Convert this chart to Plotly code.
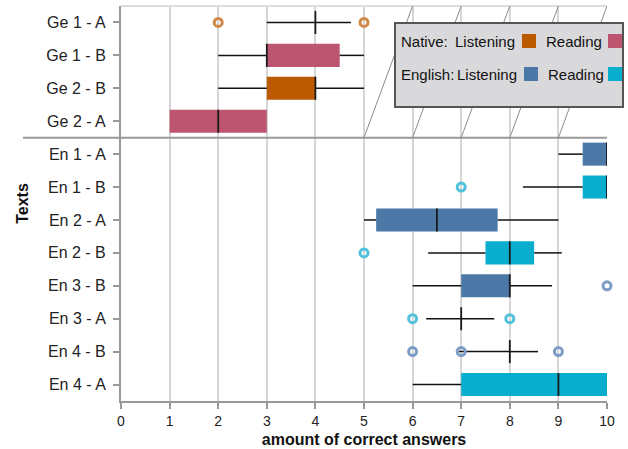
import plotly.graph_objects as go

# ---------------- data ----------------
texts = ["Ge 1 - A", "Ge 1 - B", "Ge 2 - B", "Ge 2 - A",
         "En 1 - A", "En 1 - B", "En 2 - A", "En 2 - B",
         "En 3 - B", "En 3 - A", "En 4 - B", "En 4 - A"]
skill = ["NL", "NR", "NL", "NR",
         "EL", "ER", "EL", "ER",
         "EL", "ER", "EL", "ER"]
lower = [3, 2, 2, 1, 9, 8.27, 5, 6.32, 6, 6.28, 6.95, 6]
q1 = [4, 3, 3, 1, 9.5, 9.5, 5.25, 7.5, 7, 7, 8, 7]
median = [4, 3, 4, 2, 10, 10, 6.5, 8, 8, 7, 8, 9]
q3 = [4, 4.5, 4, 3, 10, 10, 7.75, 8.5, 8, 7, 8, 10]
upper = [4.73, 5, 5, 3, 10.18, 10.16, 9, 9.07, 8.87, 7.68, 8.58, 10]
outlier_text = ["Ge 1 - A", "Ge 1 - A", "En 1 - B", "En 2 - B", "En 3 - B",
                "En 3 - A", "En 3 - A", "En 4 - B", "En 4 - B", "En 4 - B"]
outlier_value = [2, 5, 7, 5, 10, 6, 8, 6, 7, 9]
x_ticks = [0, 1, 2, 3, 4, 5, 6, 7, 8, 9, 10]

box_colors = {"NL": "#bb5a00", "NR": "#bd5570", "EL": "#4c78a8", "ER": "#09adcd"}
outlier_colors = {"NL": "#d08848", "NR": "#d0809a", "EL": "#7b9cc4", "ER": "#4fc1db"}
skill_names = {"NL": "Native Listening", "NR": "Native Reading",
               "EL": "English Listening", "ER": "English Reading"}

FONT = "Liberation Sans, Arial, sans-serif"
BOX_W = 0.7

idx = {t: i for i, t in enumerate(texts)}
fig = go.Figure()

# boxes
for s in ["NL", "NR", "EL", "ER"]:
    ys = [i for i in range(len(texts)) if skill[i] == s]
    fig.add_trace(go.Bar(
        orientation="h",
        y=ys,
        base=[q1[i] for i in ys],
        x=[q3[i] - q1[i] for i in ys],
        width=BOX_W,
        marker=dict(color=box_colors[s], line=dict(width=0)),
        name=skill_names[s], showlegend=False, hoverinfo="skip"))

# whiskers (two segments each, outside the box)
wx, wy = [], []
for i in range(len(texts)):
    if lower[i] < q1[i]:
        wx += [lower[i], q1[i], None]
        wy += [i, i, None]
    if upper[i] > q3[i]:
        wx += [q3[i], upper[i], None]
        wy += [i, i, None]
fig.add_trace(go.Scatter(x=wx, y=wy, mode="lines",
                         line=dict(color="#111111", width=1.5),
                         showlegend=False, hoverinfo="skip"))

# medians
mx, my = [], []
for i in range(len(texts)):
    mx += [median[i], median[i], None]
    my += [i - BOX_W / 2, i + BOX_W / 2, None]
fig.add_trace(go.Scatter(x=mx, y=my, mode="lines",
                         line=dict(color="#1a1a1a", width=1.8),
                         showlegend=False, hoverinfo="skip"))

# outliers
for s in ["NL", "NR", "EL", "ER"]:
    ox = [v for t, v in zip(outlier_text, outlier_value) if skill[idx[t]] == s]
    oy = [idx[t] for t in outlier_text if skill[idx[t]] == s]
    if ox:
        fig.add_trace(go.Scatter(
            x=ox, y=oy, mode="markers", cliponaxis=False,
            marker=dict(symbol="circle-open", size=8, color=outlier_colors[s],
                        line=dict(color=outlier_colors[s], width=3)),
            showlegend=False, hoverinfo="skip"))

# ---------------- layout ----------------
W, H = 628, 449
L, T, PW, PH = 121, 6, 486, 395


def px(x):
    return (x - L) / PW


def py(y):
    return (T + PH - y) / PH


n = len(texts)
sep_paper = (n - 0.5 - 3.5) / n  # between Ge and En groups

shapes = []
# top border
shapes.append(dict(type="line", xref="paper", yref="paper", x0=0, x1=1, y0=1, y1=1,
                   line=dict(color="#dddddd", width=2)))
# group separator
shapes.append(dict(type="line", xref="paper", yref="paper", x0=px(23), x1=1,
                   y0=sep_paper, y1=sep_paper, line=dict(color="#999999", width=2)))
# diagonal decoration lines
for k in [5, 6, 7, 8, 9]:
    shapes.append(dict(type="line", xref="x", yref="paper", x0=k, x1=k + 1,
                       y0=sep_paper, y1=1, line=dict(color="#8a8a8a", width=1)))
# legend box
shapes.append(dict(type="rect", xref="paper", yref="paper",
                   x0=px(395), x1=px(623), y0=py(107), y1=py(23),
                   fillcolor="#d9d9db", line=dict(color="#555555", width=2)))
# legend swatches
for (x0, y0, c) in [(522, 34, "NL"), (608, 34, "NR"), (524, 67, "EL"), (608, 67, "ER")]:
    shapes.append(dict(type="rect", xref="paper", yref="paper",
                       x0=px(x0), x1=px(x0 + 14), y0=py(y0 + 14), y1=py(y0),
                       fillcolor=box_colors[c], line=dict(width=0)))

annotations = []
for (x, y, txt, anchor) in [(399, 41, "Native:", "left"), (517, 41, "Listening", "right"),
                            (604, 41, "Reading", "right"),
                            (399, 74, "English:", "left"), (519, 74, "Listening", "right"),
                            (606, 74, "Reading", "right")]:
    annotations.append(dict(xref="paper", yref="paper", x=px(x), y=py(y), text=txt,
                            xanchor=anchor, yanchor="middle", showarrow=False,
                            font=dict(family=FONT, size=15, color="#111111")))

fig.update_layout(
    width=W, height=H,
    margin=dict(l=L, r=W - L - PW, t=T, b=H - T - PH),
    paper_bgcolor="white", plot_bgcolor="white",
    barmode="overlay",
    font=dict(family=FONT, size=14, color="#222222"),
    shapes=shapes, annotations=annotations,
    xaxis=dict(range=[0, 10], tickvals=x_ticks, ticktext=[str(v) for v in x_ticks],
               automargin=False,
               showgrid=True, gridcolor="#d6d6d6", gridwidth=2,
               showline=True, linecolor="#999999", linewidth=2,
               ticks="outside", ticklen=6, tickcolor="#999999", tickwidth=1.5,
               tickfont=dict(size=14, color="#222222"), zeroline=False,
               title=dict(text="<b>amount of correct answers</b>",
                          font=dict(size=16, color="#111111"), standoff=6)),
    yaxis=dict(range=[n - 0.5, -0.5], tickvals=list(range(n)), ticktext=texts,
               automargin=False,
               showgrid=False, zeroline=False,
               showline=True, linecolor="#999999", linewidth=2,
               ticks="outside", ticklen=6, tickcolor="#999999", tickwidth=1.5,
               tickfont=dict(size=16, color="#222222"), ticklabelstandoff=4,
               title=dict(text="<b>Texts</b>", font=dict(size=16, color="#111111"),
                          standoff=14)),
)

fig.write_html("out.html", config={"displayModeBar": False},
               post_script="document.body.style.margin='0';document.body.style.overflow='hidden';")
